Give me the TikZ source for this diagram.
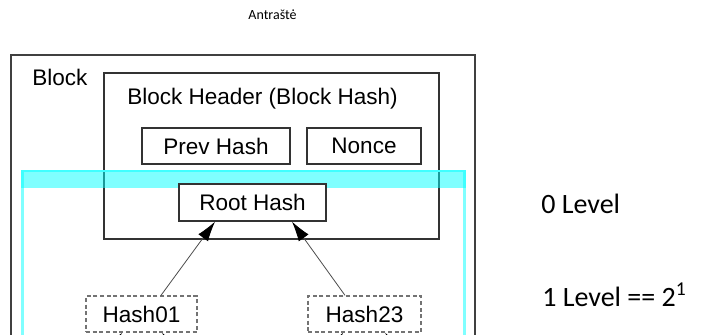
\documentclass[tikz,border=0pt]{standalone}
\usepackage{fontspec}
\setmainfont{Liberation Sans}
\newfontfamily\calibri{Carlito}
\usetikzlibrary{arrows.meta}

\definecolor{aqua}{RGB}{0,255,255}
\definecolor{paleaqua}{RGB}{128,255,255}

\tikzset{
  hashbox/.style={draw=black!80, line width=0.9pt, fill=white, minimum height=27pt, inner sep=0pt, font=\fontsize{16.9}{20}\selectfont},
  childbox/.style={hashbox, draw=black!55, dash pattern=on 3pt off 2pt},
  treearrow/.style={draw=black!70, line width=0.6pt, -{Latex[length=15pt,width=9pt,color=black]}},
  levellbl/.style={anchor=base west, inner sep=0pt, font=\calibri\fontsize{21}{25}\selectfont},
}

\begin{document}
\begin{tikzpicture}[x=0.75pt,y=0.75pt,yscale=-1]
\useasboundingbox (0,0) rectangle (715,335);
\clip (0,0) rectangle (715,335);

% Text Node
\node[inner sep=0pt, anchor=base, font=\calibri\fontsize{10.5}{12}\selectfont] (title) at (272.5,19.5) {Antraštė};

%Shape: Rectangle [block]
\draw[draw=black!75, line width=1.1pt] (11,55) rectangle (475,420);
% Text Node
\node[inner sep=0pt, anchor=base west, font=\fontsize{16.9}{20}\selectfont] (blocklbl) at (32,86) {Block};

%Shape: Rectangle [block header]
\draw[draw=black!80, line width=0.9pt] (104,73) rectangle (439,239);
% Text Node
\node[inner sep=0pt, anchor=base, font=\fontsize{16.9}{20}\selectfont] (headerlbl) at (262.5,105) {Block Header (Block Hash)};

\node[hashbox, minimum width=111pt] (prev) at (216,146) {Prev Hash};
\node[hashbox, minimum width=85.5pt] (nonce) at (364,146) {Nonce};

%Shape: Rectangle [level 0 frame]
\draw[draw=paleaqua, line width=2.2pt] (22.5,171) rectangle (464.5,420);
\fill[aqua, fill opacity=0.5] (21,170) rectangle (466,188);

\node[hashbox, minimum width=110.25pt, minimum height=27.75pt] (root) at (252.5,202.5) {Root Hash};

\node[childbox, minimum width=83.25pt] (hash01) at (141.5,314) {Hash01};
\node[childbox, minimum width=84.75pt] (hash23) at (364.5,314) {Hash23};

\draw[treearrow] ([xshift=14.6pt]hash01.north) -- ([xshift=-28.1pt]root.south);
\draw[treearrow] ([xshift=-14.6pt]hash23.north) -- ([xshift=29.6pt]root.south);

% children below the frame
\coordinate (hash0) at (68,407);
\coordinate (hash1) at (216,407);
\coordinate (hash2) at (289,407);
\coordinate (hash3) at (439,407);
\draw[treearrow] (hash0) -- ([xshift=-14.6pt]hash01.south);
\draw[treearrow] (hash1) -- ([xshift=15.4pt]hash01.south);
\draw[treearrow] (hash2) -- ([xshift=-16pt]hash23.south);
\draw[treearrow] (hash3) -- ([xshift=15.4pt]hash23.south);

% Text Node
\node[levellbl] (level0) at (541,214) {0 Level};
% Text Node
\node[levellbl] (level1) at (542,306) {1 Level == 2\textsuperscript{1}};

\end{tikzpicture}
\end{document}
